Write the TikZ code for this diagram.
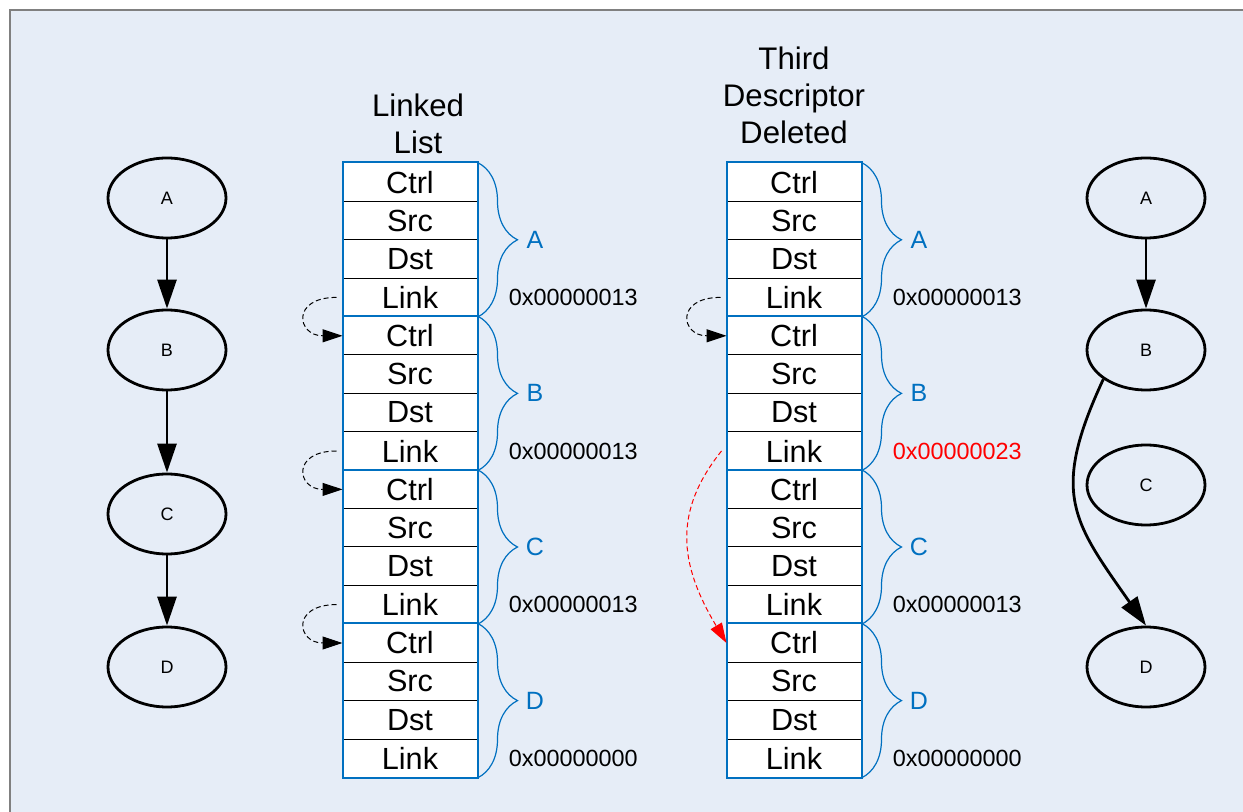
\documentclass[tikz,border=0pt]{standalone}
\usepackage{fontspec}
\setmainfont{Liberation Sans}
\usetikzlibrary{arrows.meta,decorations.pathreplacing,shapes.geometric}

\definecolor{fon}{RGB}{230,237,247}
\definecolor{sinij}{RGB}{0,112,192}

\begin{document}
\begin{tikzpicture}[x=0.5pt, y=-0.5pt,
    cell/.style={draw=black, line width=0.5pt, fill=white, minimum width=67pt, minimum height=19.2pt, inner sep=0pt, font=\fontsize{15.3}{18}\selectfont},
    ramka/.style={draw=sinij, line width=1pt},
    skobka/.style={draw=sinij, line width=0.6pt, decorate, decoration={brace, amplitude=20pt}},
    metka/.style={text=sinij, inner sep=0pt, font=\fontsize{12.5}{14}\selectfont},
    adres/.style={anchor=west, inner sep=0pt, font=\fontsize{11.7}{14}\selectfont},
    zagolovok/.style={align=center, inner sep=0pt, font=\fontsize{15.6}{18.5}\selectfont},
    vershina/.style={draw, ellipse, line width=1.4pt, minimum width=59pt, minimum height=40pt, inner sep=0pt, font=\fontsize{9}{10}\selectfont},
    rebro/.style={line width=1.4pt, -{Triangle[length=14.5pt, width=9.5pt]}},
    ssylka/.style={line width=0.5pt, dash pattern=on 2.5pt off 1.5pt, -{Triangle[length=10pt, width=6.5pt]}}]
% фон
                \useasboundingbox ( 0, 0 ) rectangle ( 1243, 812 );
                \fill [fon] ( 10, 10 ) rectangle ( 1260, 830 );
                \draw [gray, line width=1pt] ( 10, 830 ) -- ( 10, 10 ) -- ( 1260, 10 );

% заголовки
                \node [zagolovok] (zag-L) at ( 418, 123.5 ) {Linked\\List};
                \node [zagolovok] (zag-T) at ( 794, 95 ) {Third\\Descriptor\\Deleted};

% таблицы
                \foreach \tab/\xc in {L/410, T/794} {
                  \foreach \blk [count=\b from 0] in {A,B,C,D} {
                    \foreach \pole [count=\r from 0] in {Ctrl,Src,Dst,Link}
                      \node [cell] (\tab-\blk-\pole) at ( \xc, {182.2+38.4*(4*\b+\r)} ) {\pole};
                    \draw [ramka] (\tab-\blk-Ctrl.north west) rectangle (\tab-\blk-Link.south east);
                    \draw [skobka] (\tab-\blk-Ctrl.north east) -- (\tab-\blk-Link.south east);
                    \node [metka] (\tab-\blk-m) at ( {\xc+125}, {163+38.4*(4*\b+2)} ) {\blk};
                  }
                }

% адреса
                \foreach \tab/\blk/\adr/\cvet in {L/A/00000013/black, L/B/00000013/black, L/C/00000013/black, L/D/00000000/black,
                                                  T/A/00000013/black, T/B/00000023/red, T/C/00000013/black, T/D/00000000/black}
                  \node [adres, text=\cvet] (\tab-\blk-adr) at ([xshift=15.5pt]\tab-\blk-Link.east) {0x\adr};

% ссылки
                \draw [ssylka] ([xshift=-3pt]L-A-Link.west) to [out=180, in=180, looseness=3] (L-B-Ctrl.west);
                \draw [ssylka] ([xshift=-3pt]L-B-Link.west) to [out=180, in=180, looseness=3] (L-C-Ctrl.west);
                \draw [ssylka] ([xshift=-3pt]L-C-Link.west) to [out=180, in=180, looseness=3] (L-D-Ctrl.west);
                \draw [ssylka] ([xshift=-3pt]T-A-Link.west) to [out=180, in=180, looseness=3] (T-B-Ctrl.west);
                \draw [ssylka, red] ([xshift=-2.5pt]T-B-Link.west) .. controls +( -48, 60 ) and +( -48, -80 ) .. (T-D-Ctrl.west);

% графы
                \node [vershina] (gl-A) at ( 167, 198 ) {A};
                \node [vershina] (gl-B) at ( 167, 350 ) {B};
                \node [vershina] (gl-C) at ( 167, 514 ) {C};
                \node [vershina] (gl-D) at ( 167, 667 ) {D};
                \draw [rebro] (gl-A) -- (gl-B);
                \draw [rebro] (gl-B) -- (gl-C);
                \draw [rebro] (gl-C) -- (gl-D);

                \node [vershina] (gr-A) at ( 1146, 198 ) {A};
                \node [vershina] (gr-B) at ( 1146, 350 ) {B};
                \node [vershina] (gr-C) at ( 1146, 485 ) {C};
                \node [vershina] (gr-D) at ( 1146, 667 ) {D};
                \draw [rebro] (gr-A) -- (gr-B);
                \draw [rebro] (gr-B.south west) to [out=245, in=125, looseness=1.3] (gr-D.north);
            \end{tikzpicture}
\end{document}
